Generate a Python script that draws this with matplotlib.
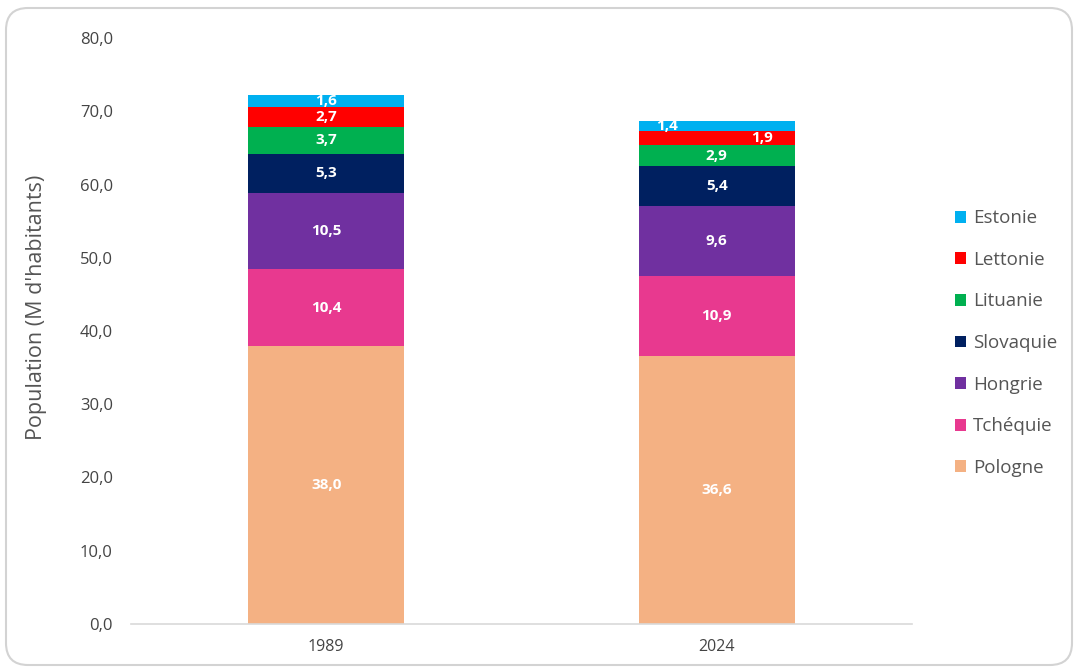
import matplotlib
matplotlib.use("Agg")
import matplotlib.pyplot as plt
from matplotlib.patches import FancyBboxPatch, Patch

years = ["1989", "2024"]
countries = ["Pologne", "Tchéquie", "Hongrie", "Slovaquie", "Lituanie", "Lettonie", "Estonie"]
pologne = [38.0, 36.6]
tchequie = [10.4, 10.9]
hongrie = [10.5, 9.6]
slovaquie = [5.3, 5.4]
lituanie = [3.7, 2.9]
lettonie = [2.7, 1.9]
estonie = [1.6, 1.4]
yticks = [0, 10, 20, 30, 40, 50, 60, 70, 80]

series = [pologne, tchequie, hongrie, slovaquie, lituanie, lettonie, estonie]
colors = ["#f4b183", "#e8398f", "#7030a0", "#002060", "#00b050", "#ff0000", "#00b0f0"]
# label x-offsets (style only) for small segments in the second bar
xoff = {("Estonie", 1): -0.127, ("Lettonie", 1): 0.115}

plt.rcParams['font.family'] = ['Open Sans', 'DejaVu Sans']
fig = plt.figure(figsize=(10.76, 6.68), dpi=100)
ax = fig.add_axes([0.1217, 0.0659, 0.7259, 0.8772])

x = list(range(len(years)))
bottom = [0.0] * len(years)
for name, vals, col in zip(countries, series, colors):
    ax.bar(x, vals, width=0.4, bottom=bottom, color=col, label=name, zorder=2)
    for i, v in enumerate(vals):
        dx = xoff.get((name, i), 0.0)
        ax.text(x[i] + dx, bottom[i] + v / 2, f"{v:.1f}".replace(".", ","),
                ha="center", va="center", color="white", fontsize=11,
                fontweight="bold", zorder=3)
    bottom = [b + v for b, v in zip(bottom, vals)]

ax.set_xlim(-0.5, 1.5)
ax.set_ylim(0, 80)
ax.set_xticks(x)
ax.set_xticklabels(years, fontsize=11.5, color="#444444")
ax.set_yticks(yticks)
ax.set_yticklabels([f"{t:.1f}".replace(".", ",") for t in yticks], fontsize=12, color="#444444")
ax.tick_params(axis="y", length=0, pad=13)
ax.tick_params(axis="x", length=0, pad=11)
for s in ["top", "right", "left"]:
    ax.spines[s].set_visible(False)
ax.spines["bottom"].set_color("#d9d9d9")
ax.spines["bottom"].set_linewidth(1.2)
ax.set_ylabel("Population (M d'habitants)", fontsize=15.5, color="#555555")
ax.yaxis.set_label_coords(-0.107, 0.541)

handles = [Patch(facecolor=c, label=n) for n, c in zip(countries, colors)][::-1]
fig.legend(handles=handles, loc="upper left", bbox_to_anchor=(0.8806, 0.698),
           frameon=False, fontsize=13.5, labelcolor="#555555",
           handlelength=0.6, handleheight=0.6, handletextpad=0.35,
           labelspacing=1.26, borderaxespad=0)

border = FancyBboxPatch((6, 3), 1066, 657, boxstyle="round,pad=0,rounding_size=22",
                        transform=None, facecolor="none", edgecolor="#d3d3d3",
                        linewidth=1.5, zorder=0)
fig.patches.append(border)

fig.savefig("out.png", dpi=100)
